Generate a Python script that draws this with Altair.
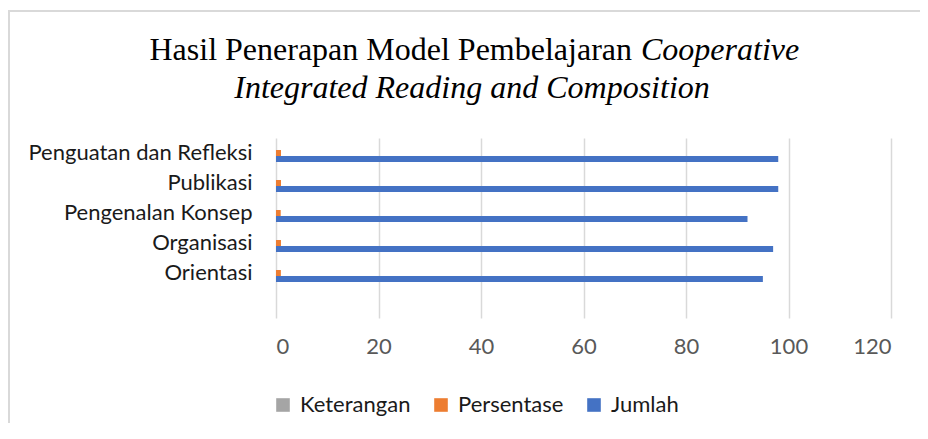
import altair as alt
import pandas as pd

# ---- data ----
categories = ["Orientasi", "Organisasi", "Pengenalan Konsep", "Publikasi", "Penguatan dan Refleksi"]
jumlah = [95, 97, 92, 98, 98]
persentase = [0.95, 0.97, 0.92, 0.98, 0.98]
keterangan = [None, None, None, None, None]
series = ["Keterangan", "Persentase", "Jumlah"]
series_colors = ["#A5A5A5", "#ED7D31", "#4472C4"]
x_ticks = [0, 20, 40, 60, 80, 100, 120]
# the sheet has one blank row below "Orientasi"
y_domain = list(reversed(categories)) + [" "]

title_line1 = "Hasil Penerapan Model Pembelajaran"
title_line1_italic = "Cooperative"
title_line2 = "Integrated Reading and Composition"

rows = []
for c, k, p, j in zip(categories, keterangan, persentase, jumlah):
    rows.append({"Kategori": c, "Seri": "Keterangan", "Nilai": k})
    rows.append({"Kategori": c, "Seri": "Persentase", "Nilai": p})
    rows.append({"Kategori": c, "Seri": "Jumlah", "Nilai": j})
df = pd.DataFrame(rows)

FONT = "Lato"
FS = 22

bars = alt.Chart(df).mark_bar(size=6).encode(
    y=alt.Y("Kategori:N",
            scale=alt.Scale(domain=y_domain, paddingInner=0.4, paddingOuter=0.2),
            axis=alt.Axis(title=None, ticks=False, tickSize=0, domain=False, grid=False,
                          labelFontSize=FS, labelFont=FONT, labelColor="#1a1a1a",
                          labelPadding=24, labelLimit=400)),
    yOffset=alt.YOffset("Seri:N", scale=alt.Scale(domain=series, paddingInner=0, paddingOuter=0)),
    x=alt.X("Nilai:Q",
            scale=alt.Scale(domain=[0, 120], nice=False),
            axis=alt.Axis(title=None, values=x_ticks, ticks=False, tickSize=0, domain=False,
                          grid=True, gridColor="#d9d9d9", gridWidth=1.5,
                          labelFontSize=FS, labelFont=FONT, labelColor="#595959",
                          labelPadding=18)),
    color=alt.Color("Seri:N",
                    scale=alt.Scale(domain=series, range=series_colors),
                    legend=alt.Legend(title=None, orient="none", direction="horizontal",
                                      legendX=-4, legendY=256, symbolType="square",
                                      symbolSize=185, symbolStrokeWidth=0,
                                      labelFontSize=FS, labelFont=FONT, labelColor="#1a1a1a",
                                      labelOffset=6, columnPadding=19, padding=0,
                                      labelLimit=300)),
)

t1 = alt.Chart(pd.DataFrame({"t": [title_line1]})).mark_text(
    align="right", baseline="alphabetic", font="Liberation Serif", fontSize=32, color="#000000"
).encode(text="t:N", x=alt.value(356), y=alt.value(-78))

t1i = alt.Chart(pd.DataFrame({"t": [title_line1_italic]})).mark_text(
    align="left", baseline="alphabetic", font="Liberation Serif", fontSize=32,
    fontStyle="italic", color="#000000"
).encode(text="t:N", x=alt.value(365), y=alt.value(-78))

t2 = alt.Chart(pd.DataFrame({"t": [title_line2]})).mark_text(
    align="center", baseline="alphabetic", font="Liberation Serif", fontSize=32,
    fontStyle="italic", color="#000000"
).encode(text="t:N", x=alt.value(196), y=alt.value(-40))

# chart frame: only the top and left edges fall inside the picture
frame = pd.DataFrame({"b": [1]})
top_edge = alt.Chart(frame).mark_rule(stroke="#d9d9d9", strokeWidth=2).encode(
    x=alt.value(-268), x2=alt.value(644), y=alt.value(-127))
left_edge = alt.Chart(frame).mark_rule(stroke="#d9d9d9", strokeWidth=2).encode(
    x=alt.value(-267), y=alt.value(-128), y2=alt.value(285))

chart = alt.layer(top_edge, left_edge, bars, t1, t1i, t2).properties(
    width=615, height=180,
    padding={"left": 268, "top": 130, "right": 29, "bottom": 105},
    autosize=alt.AutoSizeParams(type="none"),
).configure(font=FONT).configure_view(stroke="transparent", strokeWidth=0)

chart.save("out.html", embed_options={"renderer": "svg", "actions": False})
